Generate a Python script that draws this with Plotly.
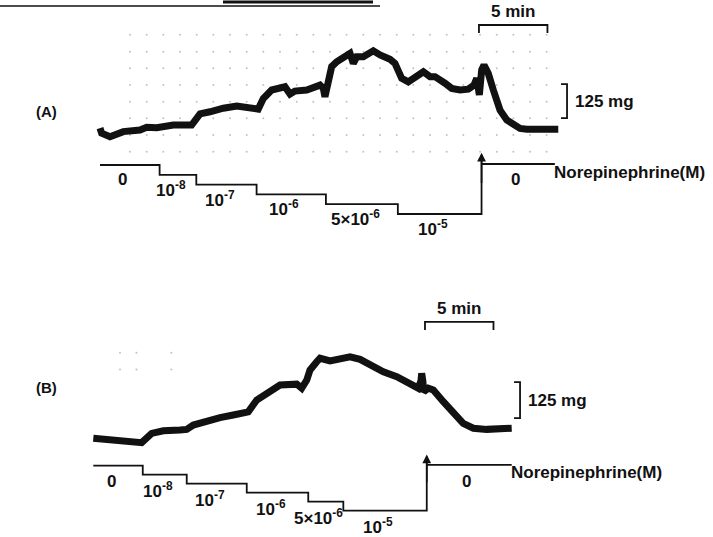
import plotly.graph_objects as go

# ---------------- data ----------------
# Panel A: isometric tension trace (time in min, tension in mg relative to baseline)
A_T = [0, 0.12, 0.73, 1.70, 2.92, 3.41, 4.14, 5.35, 6.69, 7.06, 7.30, 8.03, 8.52, 9.00, 9.98,
       11.19, 11.55, 11.92, 12.53, 13.50, 13.87, 14.23, 15.09, 16.06, 16.30, 16.42, 16.66, 16.91,
       17.28, 17.76, 18.25, 18.49, 18.74, 19.22, 19.95, 20.44, 21.17, 21.53, 22.02, 22.50, 23.12,
       23.60, 24.09, 24.45, 25.18, 25.67, 26.28, 26.88, 27.30, 27.50, 27.69, 27.86, 28.03, 28.34,
       28.71, 29.20, 29.69, 30.17, 30.66, 31.15, 33.45]
A_MG = [7, -12, -25, -6, 0, 10, 8, 18, 18, 43, 59, 67, 76, 80, 88,
        83, 77, 116, 147, 159, 132, 143, 147, 165, 153, 122, 184, 233,
        251, 264, 282, 245, 269, 269, 291, 276, 260, 245, 190, 177, 202,
        214, 196, 196, 172, 153, 147, 150, 165, 190, 129, 221, 239, 208,
        147, 73, 37, 18, 6, 3, 3]

# Panel B
B_T = [0, 1.46, 2.68, 3.53, 4.26, 5.11, 6.33, 6.82, 7.30, 8.28, 9.25, 10.22, 11.07, 11.31,
       11.93, 12.66, 13.63, 14.85, 15.21, 15.58, 15.82, 16.31, 16.55, 17.28, 18.01, 18.74,
       19.47, 20.20, 21.17, 22.15, 23.12, 23.72, 23.92, 23.97, 24.05, 24.12, 24.45, 24.82,
       25.55, 26.28, 27.00, 27.74, 28.72, 30.54]
B_MG = [0, -8, -15, -15, 17, 26, 29, 31, 46, 61, 72, 81, 87, 92,
        133, 156, 185, 188, 174, 202, 237, 266, 278, 269, 274, 283,
        274, 255, 231, 214, 185, 174, 200, 226, 200, 162, 174, 168,
        127, 87, 52, 35, 31, 35]

# Norepinephrine concentration steps (start times of each step, min)
STEP_LABELS = ["0", "10<sup>-8</sup>", "10<sup>-7</sup>", "10<sup>-6</sup>",
               "5×10<sup>-6</sup>", "10<sup>-5</sup>"]
A_STEP_T = [0, 4.35, 7.03, 11.43, 16.49, 21.74, 27.85]
A_WASH_END = 33.2
B_STEP_T = [0, 3.61, 6.82, 11.20, 15.69, 18.25, 24.34]
B_WASH_END = 30.54

# chart-paper dots
A_GRID_T = [2.19, 3.41, 4.62, 5.84, 7.06, 8.27, 9.49, 10.71, 11.92, 13.14, 14.36, 15.57, 16.79,
            18.0, 19.22, 20.44, 21.66, 22.87, 24.09, 25.31, 26.52, 27.74, 28.96, 30.17, 31.39, 32.6]
A_GRID_MG = [350, 288, 227, 165, 104, 43, -18, -80]
B_GRID_T = [1.95, 3.15, 5.7]
B_GRID_MG = [297, 239]

# ---------------- layout helpers (pixel mapping) ----------------
W, H = 713, 537
PX_PER_MIN = 13.7
A_X0, A_Y0, A_PX_PER_MG = 100.0, 130.0, 34 / 125
B_X0, B_Y0, B_PX_PER_MG = 93.3, 438.3, 36 / 125
A_L0, A_PX_PER_L = 165.0, 9.8
B_L0, B_PX_PER_L = 465.7, 9.0

def xr(x0):
    return [-x0 / PX_PER_MIN, (W - x0) / PX_PER_MIN]

def yr(y0, s):
    return [(y0 - H) / s, y0 / s]

def lr(l0, s):
    return [(H - l0) / s, -l0 / s]

BLACK = "#111111"
FONT = "Liberation Sans, Arial, Helvetica, sans-serif"
FS = 17

fig = go.Figure()

def add_panel(T, MG, step_t, wash_end, grid_t, grid_mg, xa, ya, la, zero_off, sup_off):
    # grid dots
    gx, gy = [], []
    for m in grid_mg:
        for t in grid_t:
            gx.append(t); gy.append(m)
    fig.add_trace(go.Scatter(x=gx, y=gy, mode="markers", xaxis=xa, yaxis=ya,
                             marker=dict(size=2, color="#777777", opacity=0.45),
                             hoverinfo="skip", showlegend=False))
    # tension trace
    fig.add_trace(go.Scatter(x=T, y=MG, mode="lines", xaxis=xa, yaxis=ya,
                             line=dict(color=BLACK, width=7), showlegend=False, hoverinfo="skip"))
    # step line
    sx, sy = [], []
    for i in range(6):
        sx += [step_t[i], step_t[i + 1]]
        sy += [i, i]
    sx.append(step_t[6]); sy.append(-1.0)
    fig.add_trace(go.Scatter(x=sx, y=sy, mode="lines", xaxis=xa, yaxis=la,
                             line=dict(color=BLACK, width=1.8), showlegend=False, hoverinfo="skip"))
    fig.add_trace(go.Scatter(x=[step_t[6], wash_end], y=[-0.1, -0.1], mode="lines", xaxis=xa, yaxis=la,
                             line=dict(color=BLACK, width=1.8), showlegend=False, hoverinfo="skip"))
    # arrow head
    fig.add_annotation(x=step_t[6], y=-1.25, ax=step_t[6], ay=2, xref=xa, yref=la,
                       axref=xa, ayref=la, showarrow=True, arrowhead=2, arrowsize=1.1,
                       arrowwidth=1.6, arrowcolor=BLACK, text="")
    # step labels
    for i in range(6):
        mid = (step_t[i] + step_t[i + 1]) / 2 - 0.5
        off = zero_off if i == 0 else sup_off
        fig.add_annotation(x=mid, y=i + off, xref=xa, yref=la, text="<b>" + STEP_LABELS[i] + "</b>",
                           showarrow=False, yanchor="top", xanchor="center",
                           font=dict(family=FONT, size=FS, color=BLACK))
    fig.add_annotation(x=(step_t[6] + wash_end) / 2 - 0.2, y=zero_off, xref=xa, yref=la, text="<b>0</b>",
                       showarrow=False, yanchor="top", xanchor="center",
                       font=dict(family=FONT, size=FS, color=BLACK))
    fig.add_annotation(x=wash_end, y=0.75, xref=xa, yref=la, text="<b>Norepinephrine(M)</b>",
                       showarrow=False, yanchor="middle", xanchor="left", xshift=-3,
                       font=dict(family=FONT, size=FS, color=BLACK))

add_panel(A_T, A_MG, A_STEP_T, A_WASH_END, A_GRID_T, A_GRID_MG, "x", "y", "y3", 0.3, 0.1)
add_panel(B_T, B_MG, B_STEP_T, B_WASH_END, B_GRID_T, B_GRID_MG, "x2", "y2", "y4", 0.5, 0.2)

# scale bars: 5 min and 125 mg
def scale_bars(xa, ya, t0, mg_top, tb, mg_b0, pxmg):
    tick_mg = 8 / pxmg
    fig.add_trace(go.Scatter(x=[t0, t0, t0 + 5, t0 + 5], y=[mg_top - tick_mg, mg_top, mg_top, mg_top - tick_mg],
                             mode="lines", xaxis=xa, yaxis=ya, line=dict(color=BLACK, width=1.8),
                             showlegend=False, hoverinfo="skip"))
    dt = 6 / PX_PER_MIN
    fig.add_trace(go.Scatter(x=[tb - dt, tb, tb, tb - dt], y=[mg_b0, mg_b0, mg_b0 + 125, mg_b0 + 125],
                             mode="lines", xaxis=xa, yaxis=ya, line=dict(color=BLACK, width=1.8),
                             showlegend=False, hoverinfo="skip"))
    fig.add_annotation(x=t0 + 2.5, y=mg_top, xref=xa, yref=ya, text="<b>5 min</b>", showarrow=False,
                       yanchor="bottom", yshift=2, font=dict(family=FONT, size=FS, color=BLACK))
    fig.add_annotation(x=tb, y=mg_b0 + 62.5, xref=xa, yref=ya, text="<b>125 mg</b>", showarrow=False,
                       xanchor="left", xshift=6, font=dict(family=FONT, size=FS, color=BLACK))

scale_bars("x", "y", 27.66, 386, 34.09, 44, A_PX_PER_MG)
scale_bars("x2", "y2", 24.21, 404, 31.15, 70, B_PX_PER_MG)

# panel labels
fig.add_annotation(x=0.048, y=1 - 101 / H, xref="paper", yref="paper", text="<b>(A)</b>", showarrow=False,
                   font=dict(family=FONT, size=15, color=BLACK))
fig.add_annotation(x=0.048, y=1 - 398 / H, xref="paper", yref="paper", text="<b>(B)</b>", showarrow=False,
                   font=dict(family=FONT, size=15, color=BLACK))

# remnants of caption rules at the top edge
fig.add_shape(type="line", xref="paper", yref="paper", x0=0, x1=380 / W, y0=1 - 6 / H, y1=1 - 6 / H,
              line=dict(color=BLACK, width=1.5))
fig.add_shape(type="line", xref="paper", yref="paper", x0=223 / W, x1=373 / W, y0=1 - 2 / H, y1=1 - 2 / H,
              line=dict(color=BLACK, width=3))

ax_common = dict(visible=False, fixedrange=True, showgrid=False, zeroline=False)
fig.update_layout(
    width=W, height=H, margin=dict(l=0, r=0, t=0, b=0),
    paper_bgcolor="white", plot_bgcolor="white", showlegend=False,
    xaxis=dict(range=xr(A_X0), domain=[0, 1], **ax_common),
    yaxis=dict(range=yr(A_Y0, A_PX_PER_MG), domain=[0, 1], **ax_common),
    xaxis2=dict(range=xr(B_X0), domain=[0, 1], overlaying="x", **ax_common),
    yaxis2=dict(range=yr(B_Y0, B_PX_PER_MG), domain=[0, 1], overlaying="y", **ax_common),
    yaxis3=dict(range=lr(A_L0, A_PX_PER_L), domain=[0, 1], overlaying="y", **ax_common),
    yaxis4=dict(range=lr(B_L0, B_PX_PER_L), domain=[0, 1], overlaying="y", **ax_common),
)

fig.write_html("out.html", config={"displayModeBar": False})
